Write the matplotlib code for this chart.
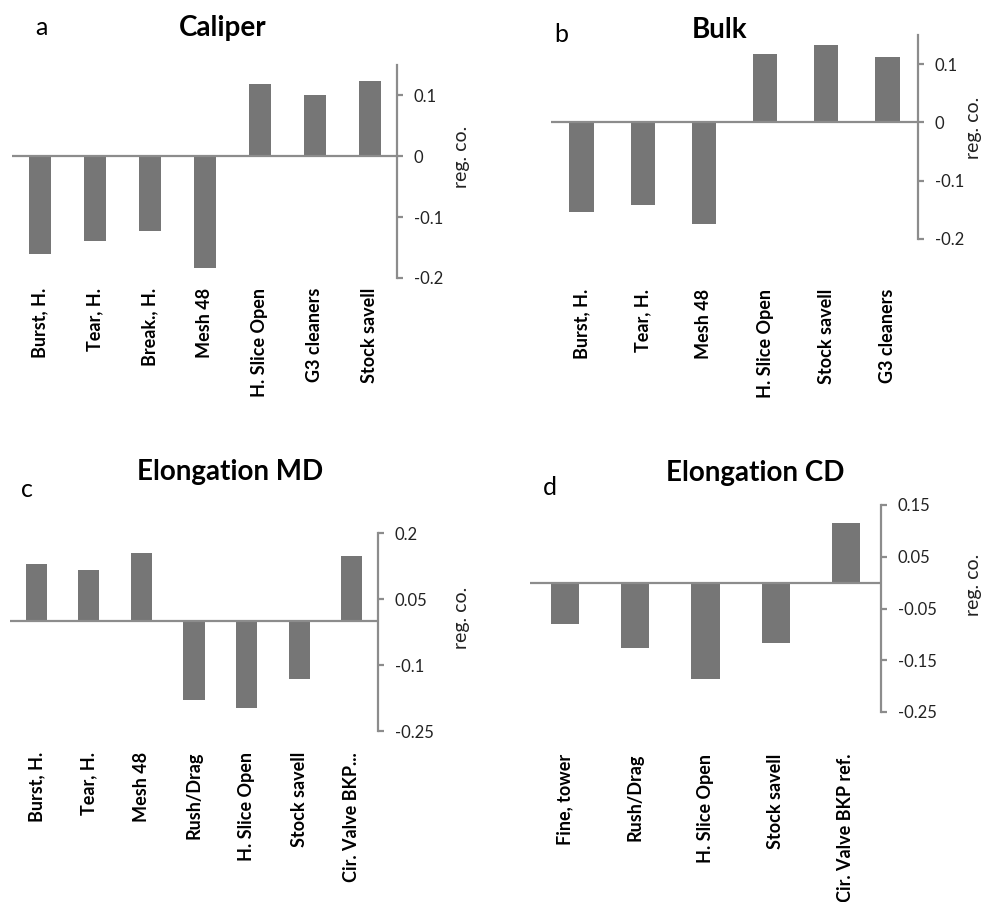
import matplotlib
matplotlib.use("Agg")
import matplotlib.pyplot as plt

plt.rcParams["font.family"] = ["Lato", "DejaVu Sans"]

W, H = 984, 902

# Regression coefficients per panel
caliper_labels = ["Burst, H.", "Tear, H.", "Break., H.", "Mesh 48",
                  "H. Slice Open", "G3 cleaners", "Stock savell"]
caliper_values = [-0.161, -0.140, -0.123, -0.183, 0.118, 0.101, 0.124]

bulk_labels = ["Burst, H.", "Tear, H.", "Mesh 48", "H. Slice Open",
               "Stock savell", "G3 cleaners"]
bulk_values = [-0.154, -0.141, -0.174, 0.118, 0.132, 0.113]

elong_md_labels = ["Burst, H.", "Tear, H.", "Mesh 48", "Rush/Drag",
                   "H. Slice Open", "Stock savell", "Cir. Valve BKP..."]
elong_md_values = [0.129, 0.116, 0.154, -0.179, -0.198, -0.131, 0.148]

elong_cd_labels = ["Fine, tower", "Rush/Drag", "H. Slice Open",
                   "Stock savell", "Cir. Valve BKP ref."]
elong_cd_values = [-0.080, -0.126, -0.187, -0.116, 0.116]

caliper_ticks = [0.1, 0, -0.1, -0.2]
caliper_ticklabels = ["0.1", "0", "-0.1", "-0.2"]
bulk_ticks = [0.1, 0, -0.1, -0.2]
bulk_ticklabels = ["0.1", "0", "-0.1", "-0.2"]
elong_md_ticks = [0.2, 0.05, -0.1, -0.25]
elong_md_ticklabels = ["0.2", "0.05", "-0.1", "-0.25"]
elong_cd_ticks = [0.15, 0.05, -0.05, -0.15, -0.25]
elong_cd_ticklabels = ["0.15", "0.05", "-0.05", "-0.15", "-0.25"]

BAR = "#767676"
AXIS = "#8c8c8c"


def panneau(fig, box, labels, values, ylim, ticks, ticklabels, pad,
            letter, letter_xy, title, title_xy, ylab_xy):
    # box = (gauche, haut, droite, bas) en pixels de la figure
    x0, y0, x1, y1 = box
    ax = fig.add_axes([x0 / W, 1 - y1 / H, (x1 - x0) / W, (y1 - y0) / H])
    pos = range(len(values))
    ax.bar(pos, values, width=0.4, color=BAR, zorder=2)
    ax.axhline(0, color=AXIS, linewidth=1.6, zorder=3)
    ax.set_xlim(-0.5, len(values) - 0.5)
    ax.set_ylim(*ylim)
    for s in ["top", "left", "bottom"]:
        ax.spines[s].set_visible(False)
    ax.spines["right"].set_color(AXIS)
    ax.spines["right"].set_linewidth(1.6)
    ax.yaxis.tick_right()
    ax.set_yticks(ticks)
    ax.set_yticklabels(ticklabels)
    ax.tick_params(axis="y", direction="out", length=4, width=1.6,
                   color=AXIS, pad=8, labelsize=12, labelcolor="#222222")
    ax.set_xticks(list(pos))
    ax.set_xticklabels(labels, rotation=90, fontweight="bold", fontsize=13)
    ax.tick_params(axis="x", length=0, pad=pad)
    ax.set_facecolor("none")

    fig.text(letter_xy[0] / W, 1 - letter_xy[1] / H, letter,
             fontsize=18, ha="center", va="baseline")
    fig.text(title_xy[0] / W, 1 - title_xy[1] / H, title,
             fontsize=20, fontweight="bold", ha="center", va="baseline")
    fig.text(ylab_xy[0] / W, 1 - ylab_xy[1] / H, "reg. co.",
             fontsize=14, rotation=90, ha="center", va="center",
             color="#222222")
    return ax


fig = plt.figure(figsize=(W / 100, H / 100), dpi=100)

panneau(fig, (12, 65, 397, 278), caliper_labels, caliper_values,
        (-0.2, 0.15), caliper_ticks, caliper_ticklabels, 7,
        "a", (41, 35), "Caliper", (223, 36), (462, 157))
panneau(fig, (551, 35, 918, 239), bulk_labels, bulk_values,
        (-0.2, 0.15), bulk_ticks, bulk_ticklabels, 36,
        "b", (561, 42), "Bulk", (720, 38), (974, 128))
panneau(fig, (10, 533, 378, 731), elong_md_labels, elong_md_values,
        (-0.25, 0.2), elong_md_ticks, elong_md_ticklabels, 15,
        "c", (27, 497), "Elongation MD", (230, 480), (462, 618))
panneau(fig, (530, 505, 881, 712), elong_cd_labels, elong_cd_values,
        (-0.25, 0.15), elong_cd_ticks, elong_cd_ticklabels, 30,
        "d", (550, 495), "Elongation CD", (755, 481), (974, 585))

fig.savefig("out.png", dpi=100, facecolor="white")
